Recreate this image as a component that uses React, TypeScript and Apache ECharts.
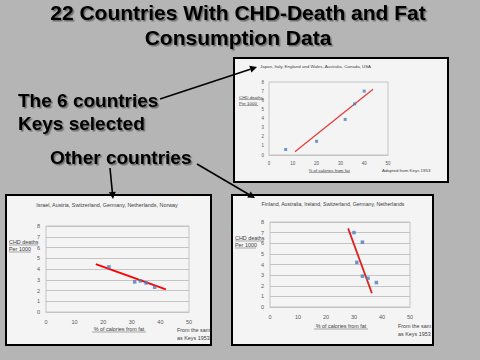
import React, { useEffect, useRef } from "react";
import * as echarts from "echarts";

// ---- data ----
const xTicks = [0, 10, 20, 30, 40, 50];
const yTicks = [0, 1, 2, 3, 4, 5, 6, 7, 8];

const keysCountries = "Japan, Italy, England and Wales, Australia, Canada, USA";
const keysFat = [7, 20, 32, 36, 40];
const keysDeaths = [0.6, 1.5, 3.9, 5.6, 7.0];
const keysTrend = [[10.9, 0.35], [43.7, 7.2]];

const otherACountries = "Israel, Austria, Switzerland, Germany, Netherlands, Norway";
const otherAFat = [22, 31, 33, 35, 38];
const otherADeaths = [4.2, 2.8, 2.9, 2.7, 2.3];
const otherATrend = [[17.4, 4.45], [41.9, 2.1]];

const otherBCountries = "Finland, Australia, Ireland, Switzerland, Germany, Netherlands";
const otherBFat = [30, 33, 31, 33, 35, 38];
const otherBDeaths = [7.0, 6.1, 4.2, 2.9, 2.7, 2.3];
const otherBTrend = [[27.9, 7.4], [36.4, 1.3]];

const FONT = "'Liberation Sans', Arial, sans-serif";

function bigText(text: string, x: number, y: number, size: number, align: string = "left") {
  return {
    type: "text",
    x,
    y,
    z: 10,
    style: {
      text,
      fill: "#000",
      font: `bold ${size}px ${FONT}`,
      textAlign: align,
      textVerticalAlign: "middle",
      textShadowColor: "rgba(0,0,0,0.4)",
      textShadowOffsetX: 1.5,
      textShadowOffsetY: 1.5,
      textShadowBlur: 1,
    },
  };
}

function smallText(text: string, x: number, y: number, size: number, align: string = "left", color = "#404040") {
  return {
    type: "text",
    x,
    y,
    z: 10,
    style: { text, fill: color, font: `${size}px ${FONT}`, textAlign: align, textVerticalAlign: "middle" },
  };
}

function uline(x1: number, x2: number, y: number) {
  return { type: "line", z: 10, shape: { x1, y1: y, x2, y2: y }, style: { stroke: "#595959", lineWidth: 0.5 } };
}

function arrow(x1: number, y1: number, x2: number, y2: number) {
  const dx = x2 - x1, dy = y2 - y1;
  const L = Math.hypot(dx, dy);
  const ux = dx / L, uy = dy / L;
  const hl = 7, hw = 3.5;
  const bx = x2 - ux * hl, by = y2 - uy * hl;
  const px = -uy * hw, py = ux * hw;
  return [
    { type: "line", z: 12, shape: { x1, y1, x2: bx, y2: by }, style: { stroke: "#000", lineWidth: 1.6 } },
    {
      type: "polygon",
      z: 12,
      shape: { points: [[x2, y2], [bx + px, by + py], [bx - px, by - py]] },
      style: { fill: "#000" },
    },
  ];
}

function panel(x: number, y: number, w: number, h: number) {
  return {
    type: "rect",
    z: -5,
    shape: { x, y, width: w, height: h },
    style: { fill: "#f4f4f4", stroke: "#000", lineWidth: 2 },
  };
}

export default function App() {
  const ref = useRef<HTMLDivElement>(null);
  useEffect(() => {
    if (!ref.current) return;
    const chart = echarts.init(ref.current, null, { renderer: "svg" });

    const grids = [
      { left: 269, top: 82, width: 119, height: 73 },
      { left: 46, top: 226, width: 143, height: 86 },
      { left: 270, top: 222, width: 140, height: 85 },
    ].map((g) => ({ ...g, show: true, borderColor: "#c4c4c4", borderWidth: 1, backgroundColor: "transparent" }));

    const fs = [4.5, 5.5, 5.5];
    const xAxis = [0, 1, 2].map((i) => ({
      type: "value",
      gridIndex: i,
      min: xTicks[0],
      max: xTicks[xTicks.length - 1],
      interval: xTicks[1] - xTicks[0],
      axisLine: { show: true, lineStyle: { color: "#c4c4c4" } },
      axisTick: { show: false },
      splitLine: { show: false },
      axisLabel: { fontSize: fs[i], color: "#595959", margin: i === 0 ? 6 : 7, fontFamily: FONT },
    }));
    const yAxis = [0, 1, 2].map((i) => ({
      type: "value",
      gridIndex: i,
      min: yTicks[0],
      max: yTicks[yTicks.length - 1],
      interval: yTicks[1] - yTicks[0],
      axisLine: { show: false },
      axisTick: { show: false },
      splitLine: { show: i !== 0, lineStyle: { color: "#c4c4c4", width: 1 } },
      axisLabel: { fontSize: fs[i], color: "#595959", margin: i === 0 ? 5 : 6, fontFamily: FONT },
    }));

    const scatter = (i: number, xs: number[], ys: number[], size: number) => ({
      type: "scatter",
      xAxisIndex: i,
      yAxisIndex: i,
      symbol: "rect",
      symbolSize: size,
      itemStyle: { color: "#4a7ebb" },
      data: xs.map((x, k) => [x, ys[k]]),
      z: 4,
    });
    const trend = (i: number, pts: number[][], color: string, w: number) => ({
      type: "line",
      xAxisIndex: i,
      yAxisIndex: i,
      data: pts,
      showSymbol: false,
      symbol: "none",
      lineStyle: { color, width: w },
      z: 3,
    });

    const graphics: any[] = [
      panel(234, 58, 214, 124),
      panel(6, 195, 205, 150),
      panel(232, 195, 201, 150),
      bigText("22 Countries With CHD-Death and Fat", 238, 12, 21, "center"),
      bigText("Consumption Data", 238, 37, 21, "center"),
      bigText("The 6 countries", 18, 100, 19),
      bigText("Keys selected", 18, 123, 19),
      bigText("Other countries", 50, 157, 19),
      ...arrow(160, 99, 257, 67),
      ...arrow(110, 168, 113, 199),
      ...arrow(197, 164, 255, 198),
      // top-right chart texts
      smallText(keysCountries, 260, 66, 4.4),
      smallText("CHD deaths", 239, 97, 4.4),
      smallText("Per 1000", 239, 103, 4.4),
      uline(239, 264, 99.5),
      uline(239, 258, 105.5),
      smallText("% of calories from fat", 329, 170, 4.4, "center"),
      uline(309, 350, 172.5),
      smallText("Adapted from Keys 1953", 382, 170, 4.4),
      // bottom-left chart texts
      smallText(otherACountries, 107, 205, 5.4, "center"),
      smallText("CHD deaths", 9, 242, 5.4),
      smallText("Per 1000", 9, 249, 5.4),
      uline(9, 38, 245),
      uline(9, 31, 252),
      smallText("% of calories from fat", 119, 329, 5.4, "center"),
      uline(92, 146, 332),
      smallText("From the sam", 177, 330, 5.4),
      smallText("as Keys 1953", 177, 338, 5.4),
      // bottom-right chart texts
      smallText(otherBCountries, 333, 204, 5.2, "center"),
      smallText("CHD deaths", 235, 238, 5.4),
      smallText("Per 1000", 235, 245, 5.4),
      uline(235, 264, 241),
      uline(235, 256, 248),
      smallText("% of calories from fat", 341, 326, 5.4, "center"),
      uline(314, 368, 329),
      smallText("From the sam", 398, 326, 5.4),
      smallText("as Keys 1953", 398, 334, 5.4),
    ];

    chart.setOption({
      animation: false,
      backgroundColor: "#b5b5b5",
      grid: grids,
      xAxis,
      yAxis,
      series: [
        trend(0, keysTrend, "#e0403c", 1.3),
        scatter(0, keysFat, keysDeaths, 3),
        trend(1, otherATrend, "#ff0000", 1.8),
        scatter(1, otherAFat, otherADeaths, 3.5),
        trend(2, otherBTrend, "#e02020", 1.8),
        scatter(2, otherBFat, otherBDeaths, 3.5),
      ],
      graphic: { elements: graphics },
    });
    return () => chart.dispose();
  }, []);
  return <div ref={ref} style={{ width: 480, height: 360, position: "absolute", left: 0, top: 0 }} />;
}
